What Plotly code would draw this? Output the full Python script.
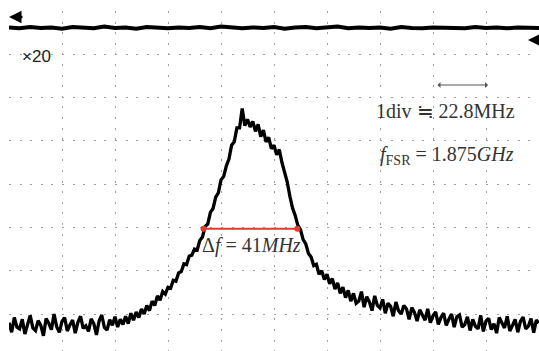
import plotly.graph_objects as go

# ---- data (in screen divisions: x 0..10, y 0..8) ----
x_main = [round(i * 0.05, 2) for i in range(201)]
y_main = [
    0.80, 0.58, 0.92, 0.70, 0.66, 0.88, 0.54, 0.76, 0.97, 0.68,
    0.62, 0.85, 0.74, 0.50, 0.90, 0.79, 0.64, 1.00, 0.71, 0.58,
    0.83, 0.92, 0.61, 0.75, 0.86, 0.56, 0.81, 0.95, 0.67, 0.73,
    0.60, 0.89, 0.78, 0.52, 0.84, 0.98, 0.69, 0.63, 0.87, 0.74,
    0.94, 0.70, 0.88, 0.76, 0.95, 0.78, 1.02, 0.86, 1.05, 0.92,
    1.12, 1.00, 1.20, 1.08, 1.30, 1.20, 1.42, 1.32, 1.52, 1.46,
    1.62, 1.60, 1.78, 1.76, 1.95, 1.98, 2.16, 2.14, 2.34, 2.36,
    2.50, 2.48, 2.70, 2.78, 3.02, 3.08, 3.35, 3.44, 3.70, 3.80,
    4.10, 4.18, 4.42, 4.58, 4.90, 4.98, 5.30, 5.30, 5.75, 5.35,
    5.50, 5.32, 5.45, 5.22, 5.38, 5.10, 5.25, 4.98, 5.08, 4.82,
    4.90, 4.68, 4.80, 4.50, 4.28, 4.05, 3.72, 3.45, 3.28, 3.05,
    2.95, 2.72, 2.62, 2.40, 2.32, 2.12, 2.15, 1.92, 2.00, 1.80,
    1.92, 1.70, 1.82, 1.58, 1.72, 1.48, 1.62, 1.38, 1.55, 1.30,
    1.48, 1.25, 1.30, 1.52, 1.16, 1.40, 1.28, 1.08, 1.42, 1.20,
    1.14, 1.34, 1.02, 1.25, 1.18, 0.95, 1.28, 1.08, 1.00, 1.20,
    1.12, 0.88, 1.15, 1.04, 0.84, 1.10, 0.98, 0.86, 1.12, 0.80,
    0.96, 1.05, 0.76, 0.92, 1.02, 0.74, 0.88, 1.00, 0.70, 0.94,
    0.98, 0.70, 0.76, 0.94, 0.62, 0.88, 0.72, 0.66, 0.97, 0.60,
    0.84, 0.90, 0.64, 0.78, 0.56, 0.92, 0.80, 0.68, 0.95, 0.61,
    0.74, 0.88, 0.58, 0.83, 0.93, 0.66, 0.72, 0.90, 0.57, 0.86,
    0.80,
]
x_top = [round(i * 0.2, 1) for i in range(51)]
y_top = [
    7.62, 7.60, 7.63, 7.61, 7.62, 7.59, 7.63, 7.62, 7.60, 7.64,
    7.61, 7.62, 7.59, 7.63, 7.61, 7.60, 7.62, 7.61, 7.63, 7.60,
    7.64, 7.61, 7.60, 7.62, 7.61, 7.63, 7.59, 7.62, 7.63, 7.60,
    7.61, 7.64, 7.60, 7.62, 7.61, 7.62, 7.59, 7.63, 7.61, 7.60,
    7.62, 7.61, 7.62, 7.60, 7.63, 7.61, 7.62, 7.60, 7.62, 7.61,
    7.61,
]
fwhm_x = [3.67, 5.44]
fwhm_y = [2.97, 2.97]

W, H = 539, 351
ML, MR, MT, MB = 9, 0, 11, 0
plot_h = H - MT - MB
y_bottom = 8 - plot_h / 43.3

fig = go.Figure()
fig.add_trace(go.Scatter(x=x_top, y=y_top, mode="lines",
                         line=dict(color="black", width=4), hoverinfo="skip"))
fig.add_trace(go.Scatter(x=x_main, y=y_main, mode="lines",
                         line=dict(color="black", width=3.3), hoverinfo="skip"))
fig.add_trace(go.Scatter(x=fwhm_x, y=fwhm_y, mode="lines+markers",
                         line=dict(color="#e33a2e", width=2),
                         marker=dict(color="#e33a2e", size=6), hoverinfo="skip"))

def py(ypix):
    return 1 - (ypix - MT) / plot_h

def px(xpix):
    return (xpix - ML) / (W - ML - MR)

serif = "Times New Roman, Liberation Serif, serif"
annots = [
    dict(x=px(9), y=py(17), ax=15, ay=0, showarrow=True, arrowhead=2,
         arrowsize=1, arrowwidth=2.5, arrowcolor="black", text=""),
    dict(x=px(528), y=py(40), ax=15, ay=0, showarrow=True, arrowhead=2,
         arrowsize=1, arrowwidth=2.5, arrowcolor="black", text=""),
    dict(x=px(488), y=py(85), ax=-52, ay=0, showarrow=True, arrowhead=1,
         arrowside="end+start", arrowsize=1, arrowwidth=1, arrowcolor="#555", text=""),
    dict(x=px(36), y=py(57), showarrow=False, text="×20",
         font=dict(family="Arial, Liberation Sans", size=17, color="#222")),
    dict(x=px(445), y=py(111), showarrow=False, text="1div ≒ 22.8MHz",
         font=dict(family=serif, size=20, color="#333")),
    dict(x=px(447), y=py(155), showarrow=False,
         text="<i>f</i><sub>FSR</sub> = 1.875<i>GHz</i>",
         font=dict(family=serif, size=20, color="#333")),
    dict(x=px(251), y=py(245), showarrow=False,
         text="Δ<i>f</i> = 41<i>MHz</i>",
         font=dict(family=serif, size=20, color="#333")),
]
for a in annots:
    a.setdefault("xref", "paper")
    a.setdefault("yref", "paper")
    a.setdefault("xanchor", "center")
    a.setdefault("yanchor", "middle")

fig.update_layout(
    width=W, height=H,
    margin=dict(l=ML, r=MR, t=MT, b=MB, pad=0),
    paper_bgcolor="white", plot_bgcolor="white",
    showlegend=False,
    annotations=annots,
)
fig.update_xaxes(range=[0, 10], dtick=1, showticklabels=False, ticks="",
                 showgrid=True, gridcolor="#a0a0a0", gridwidth=1,
                 griddash="2px,8.6px", zeroline=False, showline=False)
fig.update_yaxes(range=[y_bottom, 8], tick0=0, dtick=1, showticklabels=False, ticks="",
                 showgrid=True, gridcolor="#a0a0a0", gridwidth=1,
                 griddash="2px,8.6px", zeroline=False, showline=False)

fig.write_html("out.html", config={"displayModeBar": False},
               post_script="document.body.style.margin='0';")
